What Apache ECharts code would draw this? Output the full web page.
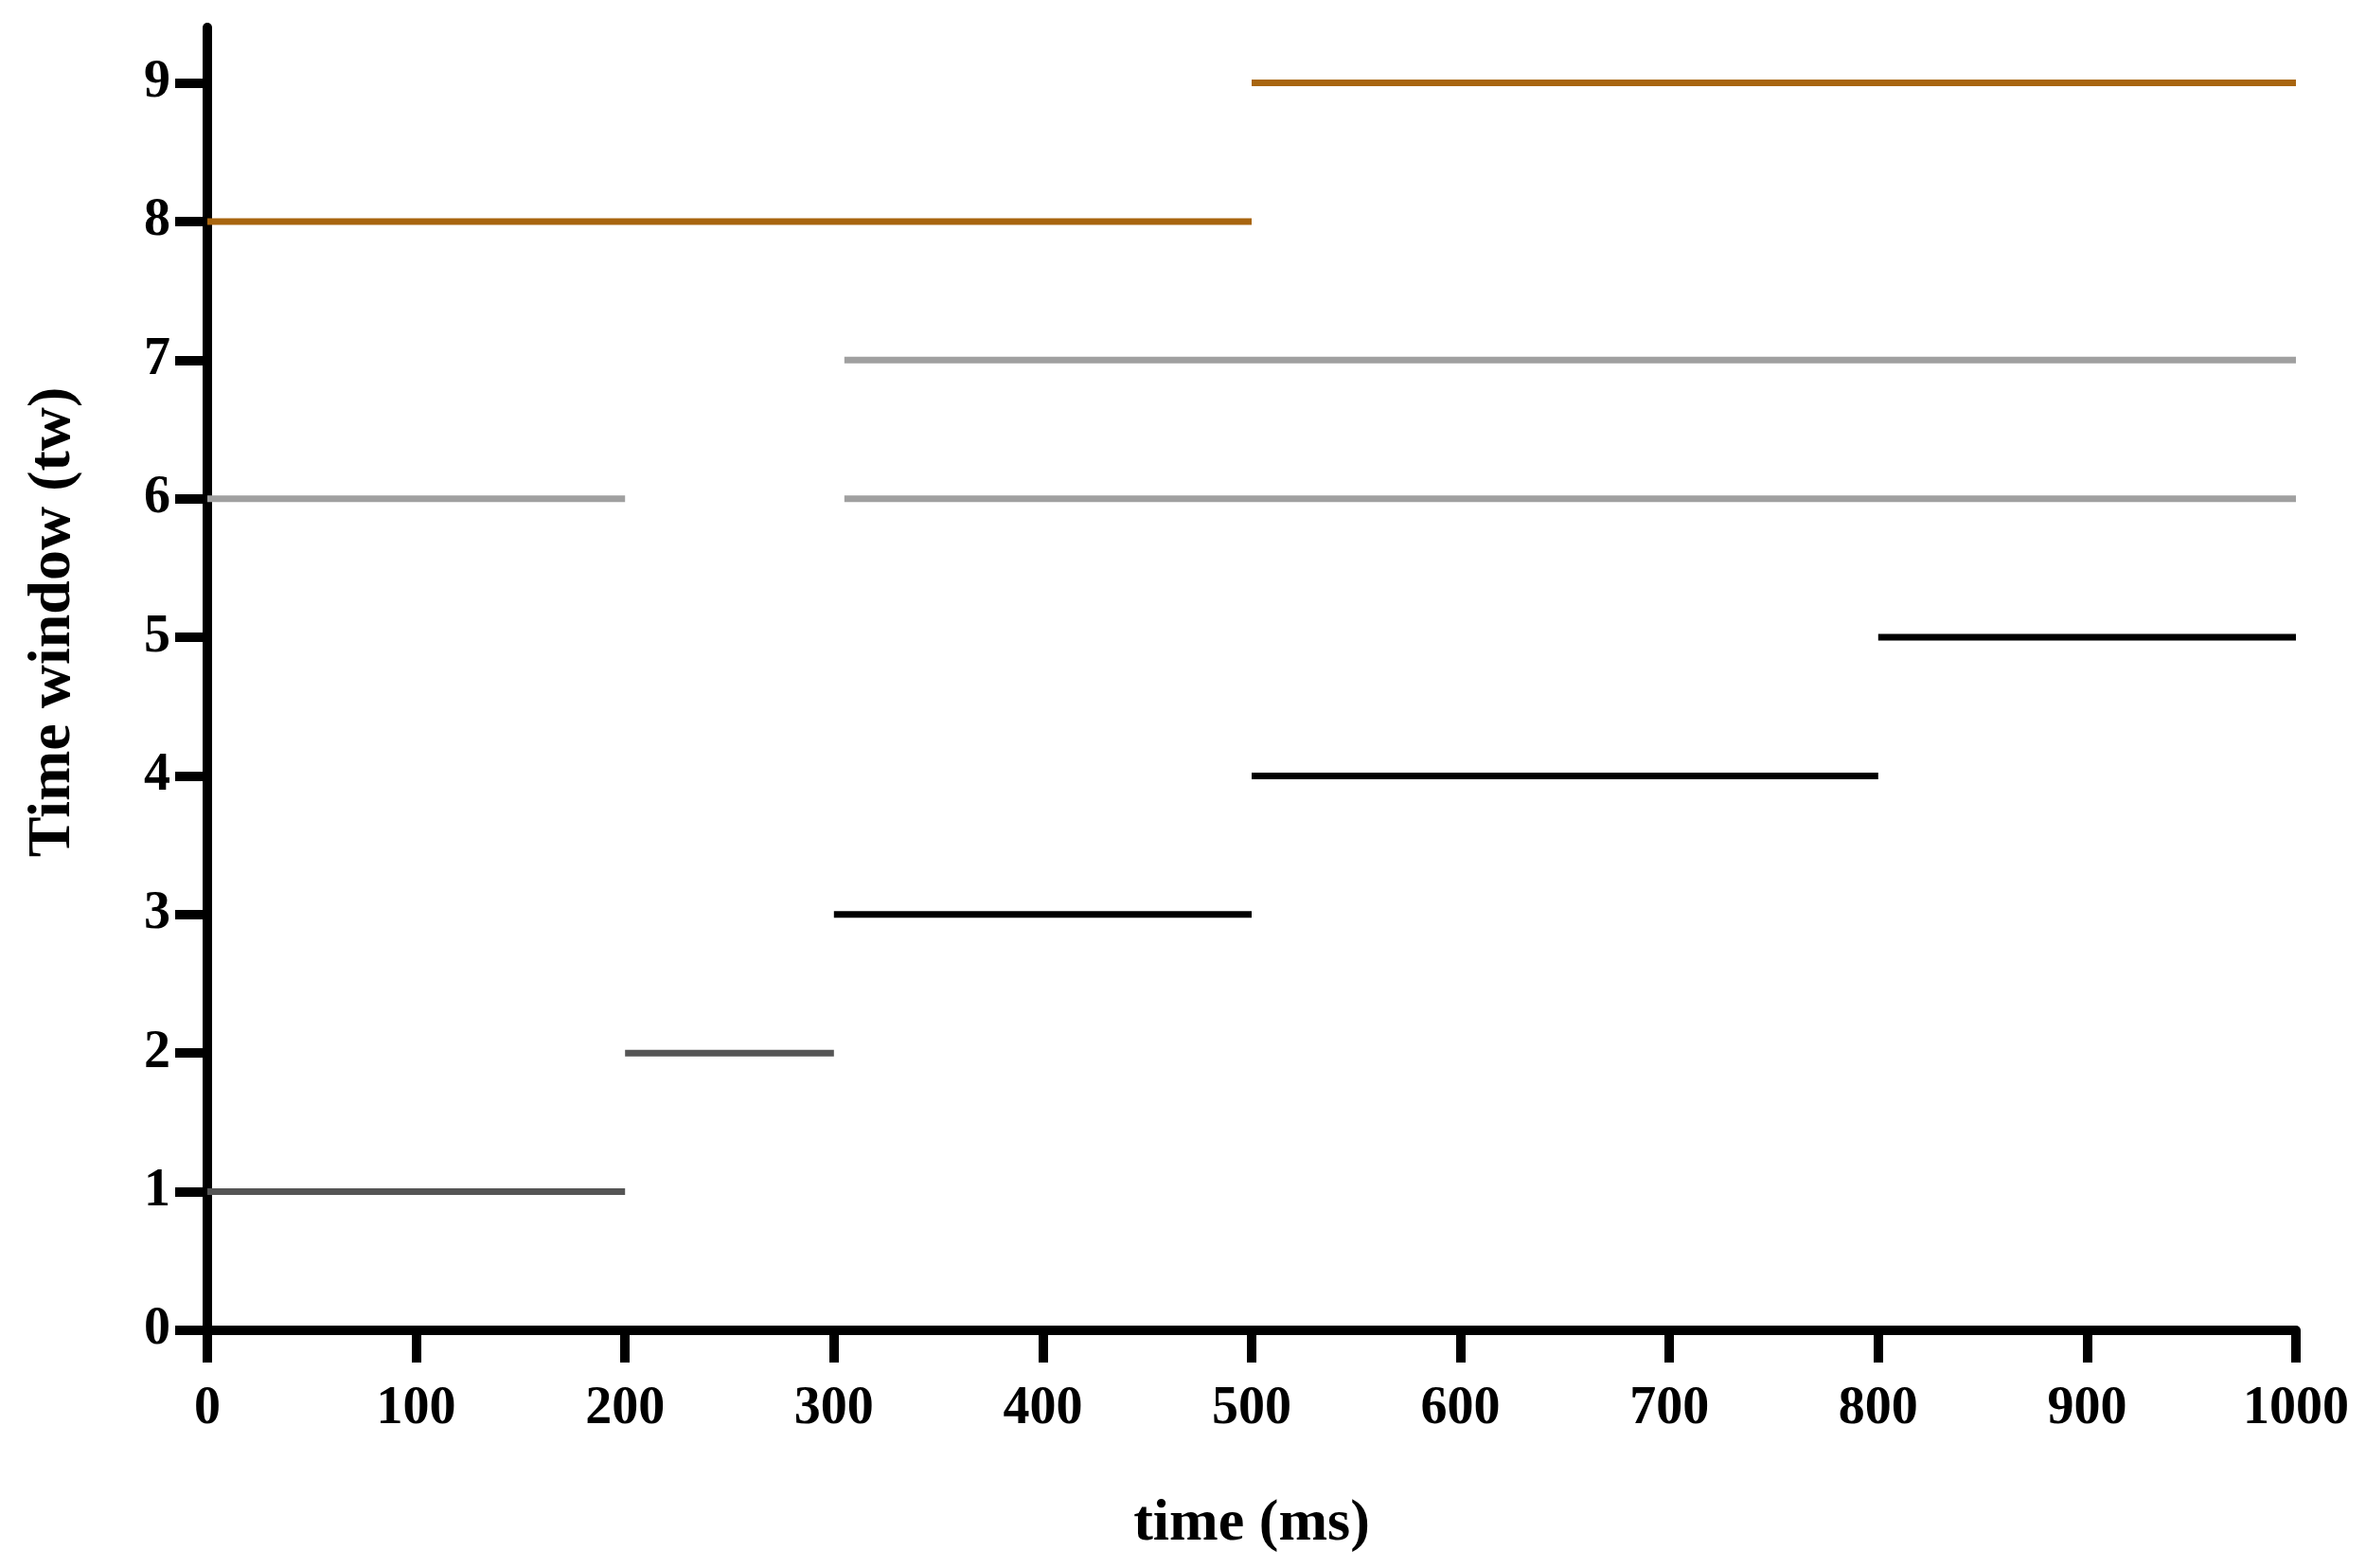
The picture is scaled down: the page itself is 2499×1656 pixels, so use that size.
<!DOCTYPE html>
<html>
<head>
<meta charset="utf-8">
<script src="https://cdn.jsdelivr.net/npm/echarts@6/dist/echarts.min.js"></script>
<style>
html,body{margin:0;padding:0;background:#fff;}
#chart{width:2499px;height:1656px;}
</style>
</head>
<body>
<div id="chart"></div>
<script>
// Segment data: each segment is a time window active from start to end (ms)
const segTw    = [1,   2,   3,   4,   5,    6,   6,    7,    8,   9];
const segStart = [0,   200, 300, 500, 800,  0,   305,  305,  0,   500];
const segEnd   = [200, 300, 500, 800, 1000, 200, 1000, 1000, 500, 1000];
const yTicks = [0, 1, 2, 3, 4, 5, 6, 7, 8, 9];
const xTicks = [0, 100, 200, 300, 400, 500, 600, 700, 800, 900, 1000];
const xTitle = 'time (ms)';
const yTitle = 'Time window (tw)';

const colorByTw = {1:'#555555',2:'#555555',3:'#000000',4:'#000000',5:'#000000',6:'#a0a0a0',7:'#a0a0a0',8:'#a8650f',9:'#a8650f'};

const series = segTw.map((tw, i) => ({
  type: 'line',
  data: [[segStart[i], tw], [segEnd[i], tw]],
  symbol: 'none',
  silent: true,
  z: 1,
  lineStyle: { color: colorByTw[tw], width: 7, cap: 'butt' }
}));

const font = '"Liberation Serif", "DejaVu Serif", serif';
const chart = echarts.init(document.getElementById('chart'), null, {renderer: 'canvas'});
chart.setOption({
  animation: false,
  backgroundColor: '#ffffff',
  grid: { left: 219, right: 74, top: 29, bottom: 251, containLabel: false },
  xAxis: {
    type: 'value', min: 0, max: 1000, interval: 100,
    name: xTitle, nameLocation: 'middle', nameGap: 174,
    nameTextStyle: { fontFamily: font, fontWeight: 'bold', fontSize: 62, color: '#000' },
    axisLine: { show: true, lineStyle: { color: '#000', width: 10 } },
    axisTick: { show: true, length: 34, lineStyle: { color: '#000', width: 10 }, customValues: xTicks },
    axisLabel: { show: true, margin: 56, fontFamily: font, fontWeight: 'bold', fontSize: 56, color: '#000', customValues: xTicks,
      formatter: v => String(v) },
    splitLine: { show: false }
  },
  yAxis: {
    type: 'value', min: 0, max: 9.4,
    axisLine: { show: true, lineStyle: { color: '#000', width: 10 } },
    axisTick: { show: true, length: 34, lineStyle: { color: '#000', width: 10 }, customValues: yTicks },
    axisLabel: { show: true, margin: 39, fontFamily: font, fontWeight: 'bold', fontSize: 56, color: '#000', customValues: yTicks,
      formatter: v => String(v) },
    splitLine: { show: false }
  },
  graphic: [{
    type: 'text',
    x: 56, y: 657,
    rotation: Math.PI / 2,
    style: {
      text: yTitle,
      fontFamily: font, fontWeight: 'bold', fontSize: 64, fill: '#000',
      align: 'center', verticalAlign: 'middle'
    }
  }],
  series: series
});
</script>
</body>
</html>
